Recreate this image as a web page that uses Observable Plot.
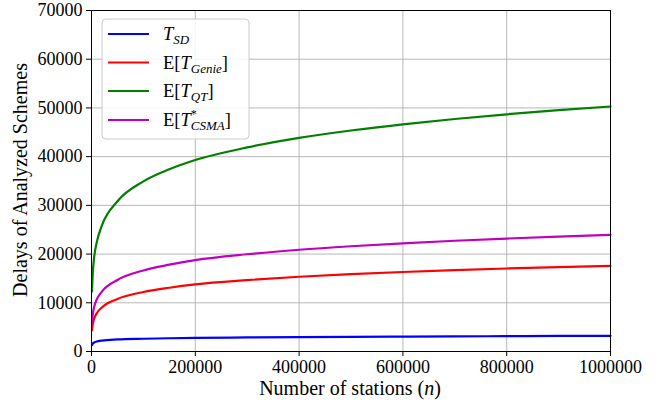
<!DOCTYPE html>
<html>
<head>
<meta charset="utf-8">
<script src="https://cdn.jsdelivr.net/npm/d3@7"></script>
<script src="https://cdn.jsdelivr.net/npm/@observablehq/plot@0.6"></script>
<style>
  html, body { margin: 0; padding: 0; background: #fff; }
  #chart svg { display: block; }
  #chart svg, #chart svg text, #chart svg tspan { font-family: "Liberation Serif", "DejaVu Serif", serif !important; }
</style>
</head>
<body>
<div id="chart"></div>
<script>
// ---- data ----
const nValues = [1000, 2000, 5000, 10000, 20000, 50000, 100000, 150000, 200000, 300000, 400000, 500000, 600000, 700000, 800000, 900000, 1000000];
const tSD    = [1300, 1550, 1850, 2050, 2250, 2480, 2620, 2720, 2800, 2880, 2950, 3010, 3060, 3110, 3150, 3190, 3220];
const tGenie = [4400, 5330, 6690, 7820, 9050, 10790, 12220, 13090, 13780, 14660, 15350, 15880, 16320, 16700, 17040, 17330, 17590];
const tQT    = [12300, 15200, 19200, 22350, 25850, 30840, 34930, 37410, 39300, 41900, 43850, 45370, 46640, 47730, 48690, 49540, 50290];
const tCSMA  = [5990, 7250, 9110, 10650, 12310, 14690, 16640, 17820, 18750, 19960, 20890, 21610, 22210, 22730, 23190, 23590, 23950];
const seriesNames = ["SD", "Genie", "QT", "CSMA"];
const seriesColors = ["#0000ff", "#ff0000", "#008000", "#bf00bf"];
const xTicks = [0, 200000, 400000, 600000, 800000, 1000000];
const yTicks = [0, 10000, 20000, 30000, 40000, 50000, 60000, 70000];

const seriesValues = [tSD, tGenie, tQT, tCSMA];
const rows = [];
seriesNames.forEach((s, i) => nValues.forEach((n, j) => rows.push({series: s, n, v: seriesValues[i][j]})));

const FONT = "'Liberation Serif', 'DejaVu Serif', serif";

const svg = Plot.plot({
  width: 665,
  height: 406,
  marginLeft: 91,
  marginRight: 55,
  marginTop: 10,
  marginBottom: 55,
  style: {fontSize: "18px", color: "#000", background: "#fff"},
  x: {domain: [0, 1000000], label: null},
  y: {domain: [0, 70000], label: null},
  color: {domain: seriesNames, range: seriesColors},
  marks: [
    Plot.gridX(xTicks, {stroke: "#b0b0b0", strokeOpacity: 1, strokeWidth: 0.9}),
    Plot.gridY(yTicks, {stroke: "#b0b0b0", strokeOpacity: 1, strokeWidth: 0.9}),
    Plot.line(rows, {x: "n", y: "v", z: "series", stroke: "series", strokeWidth: 2.2, curve: "monotone-x"}),
    Plot.axisX(xTicks, {tickFormat: d => String(d), tickSize: 5, tickPadding: 4, label: null, fontSize: 18}),
    Plot.axisY(yTicks, {tickFormat: d => String(d), tickSize: 5, tickPadding: 4, label: null, fontSize: 18}),
    Plot.frame({stroke: "#000", strokeWidth: 1})
  ]
});
document.getElementById("chart").appendChild(svg);

const s = d3.select(svg);
// axis titles
s.append("text")
  .attr("x", 350).attr("y", 395)
  .attr("text-anchor", "middle")
  .attr("font-size", 20).attr("fill", "#000")
  .html('Number of stations (<tspan font-style="italic">n</tspan>)');
s.append("text")
  .attr("transform", "translate(27,180) rotate(-90)")
  .attr("text-anchor", "middle")
  .attr("font-size", 20).attr("fill", "#000")
  .text("Delays of Analyzed Schemes");

// legend
const lg = s.append("g").attr("font-size", 18.5).attr("fill", "#000").attr("text-anchor", "start");
lg.append("rect").attr("x", 102).attr("y", 19).attr("width", 147).attr("height", 120)
  .attr("rx", 4).attr("fill", "#fff").attr("fill-opacity", 0.85).attr("stroke", "#cccccc").attr("stroke-width", 1);
const legendY = [34, 62.5, 91, 120];
const legendHtml = [
  '<tspan font-style="italic">T</tspan><tspan font-style="italic" font-size="13" dy="4">SD</tspan>',
  'E[<tspan font-style="italic">T</tspan><tspan font-style="italic" font-size="13" dy="4">Genie</tspan><tspan dy="-4">]</tspan>',
  'E[<tspan font-style="italic">T</tspan><tspan font-style="italic" font-size="13" dy="4">QT</tspan><tspan dy="-4">]</tspan>',
  'E[<tspan font-style="italic">T</tspan><tspan font-size="12" dy="-8">*</tspan><tspan font-style="italic" font-size="13" dx="-6" dy="12">CSMA</tspan><tspan dy="-4">]</tspan>'
];
seriesNames.forEach((name, i) => {
  lg.append("line").attr("x1", 108).attr("x2", 149).attr("y1", legendY[i]).attr("y2", legendY[i])
    .attr("stroke", seriesColors[i]).attr("stroke-width", 2.2);
  lg.append("text").attr("x", 163).attr("y", legendY[i] + 6).html(legendHtml[i]);
});

// force serif font on every text node
s.attr("font-family", FONT).style("font-family", FONT);
s.selectAll("g, text, tspan").attr("font-family", FONT).style("font-family", FONT);
</script>
</body>
</html>
